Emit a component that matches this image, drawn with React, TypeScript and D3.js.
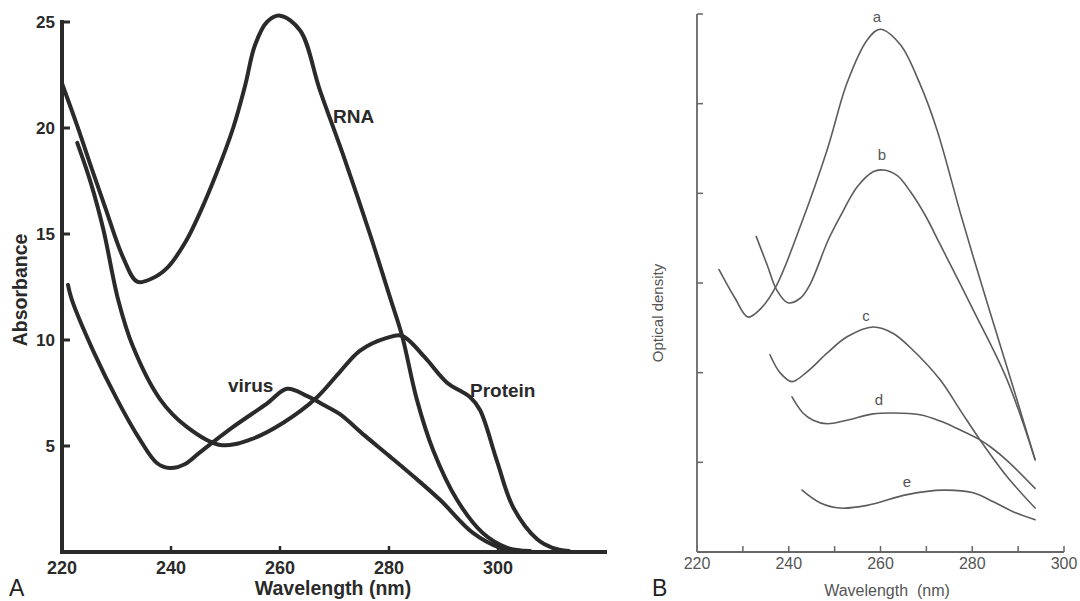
import React from "react";
import * as d3 from "d3";

// ---------- Panel A data (wavelength nm, absorbance) ----------
const rnaWl = [220, 222.8, 225.3, 228, 231.2, 233.8, 236.5, 239.3, 242.6, 245.3, 248.4, 251.4, 253.6, 255.4, 257.6, 260, 263.7, 267.3, 271.9, 276.5, 280.2, 282.4, 285.1, 288.1, 292.5, 297.2, 301.7, 305.9];
const rnaAbs = [22.1, 20.1, 18.2, 16.2, 13.9, 12.75, 12.9, 13.4, 14.6, 16.0, 17.9, 20.0, 22.0, 23.9, 25.0, 25.3, 24.6, 21.8, 18.5, 15.0, 12.0, 10.2, 7.2, 4.8, 2.45, 0.9, 0.2, 0.05];

const proteinWl = [222.8, 225.3, 227.6, 230.3, 233, 238, 242.9, 249, 254.5, 260.6, 266.8, 271, 274.7, 279.6, 282.4, 286.5, 290.6, 294.9, 296.7, 299.8, 302.8, 307.2, 310, 313];
const proteinAbs = [19.3, 17.4, 15.2, 11.9, 9.7, 7.2, 5.9, 5.05, 5.3, 6.1, 7.3, 8.5, 9.5, 10.1, 10.2, 9.2, 8.0, 7.3, 6.7, 4.3, 2.1, 0.6, 0.2, 0.05];

const virusWl = [221.1, 221.8, 225.7, 230.1, 234.3, 237.4, 239.8, 242.6, 245.3, 251.4, 257.6, 261.3, 265, 268.3, 271, 275.5, 280.2, 284.8, 289.4, 295.4, 300.4, 304];
const virusAbs = [12.6, 11.9, 9.5, 7.2, 5.3, 4.2, 3.96, 4.15, 4.7, 5.9, 7.0, 7.7, 7.35, 6.9, 6.5, 5.5, 4.5, 3.5, 2.45, 0.9, 0.2, 0.05];

const aXTicks = [220, 240, 260, 280, 300];
const aYTicks = [5, 10, 15, 20, 25];

// ---------- Panel B data (wavelength nm, optical density, arbitrary units) ----------
const curveAWl = [224.8, 228.3, 231.1, 234.0, 237.4, 242.5, 248.4, 252.7, 257.1, 259.9, 264.3, 268.6, 272.3, 277.8, 283.9, 288.9, 293.7];
const curveAOd = [3.15, 2.83, 2.62, 2.72, 2.98, 3.63, 4.49, 5.23, 5.71, 5.83, 5.66, 5.22, 4.71, 3.71, 2.67, 1.84, 1.03];

const curveBWl = [232.9, 235.3, 237.4, 239.8, 242.5, 244.6, 248.6, 251.2, 254.9, 258.4, 260.6, 263.6, 266.5, 269.8, 273.0, 280.2, 287.6, 293.7];
const curveBOd = [3.52, 3.20, 2.92, 2.78, 2.83, 2.98, 3.48, 3.74, 4.07, 4.24, 4.26, 4.20, 4.02, 3.75, 3.43, 2.70, 1.92, 1.03];

const curveCWl = [235.9, 238.1, 240.7, 244.0, 248.4, 252.7, 258.4, 262.7, 267.1, 273.0, 277.4, 281.7, 287.6, 293.7];
const curveCOd = [2.20, 2.00, 1.90, 2.01, 2.22, 2.40, 2.51, 2.44, 2.25, 1.92, 1.58, 1.25, 0.84, 0.49];

const curveDWl = [240.7, 243.1, 245.3, 248.4, 252.7, 258.4, 262.7, 268.6, 273.0, 277.4, 281.7, 284.3, 287.6, 293.7];
const curveDOd = [1.73, 1.55, 1.47, 1.43, 1.47, 1.54, 1.55, 1.53, 1.46, 1.36, 1.25, 1.16, 1.02, 0.71];

const curveEWl = [242.9, 246.8, 251.2, 257.1, 265.8, 273.7, 280.2, 284.6, 288.9, 293.7];
const curveEOd = [0.69, 0.55, 0.49, 0.52, 0.64, 0.69, 0.66, 0.56, 0.45, 0.36];

const bXLabelTicks = [220, 240, 260, 280, 300];
const bXMinorTicks = [230, 240, 250, 260, 270, 280, 290, 300];
const bYTicks = [1, 2, 3, 4, 5, 6];

const zip = (xs: number[], ys: number[]) => xs.map((x, i) => [x, ys[i]] as [number, number]);

export default function App() {
  // Panel A scales
  const ax = d3.scaleLinear().domain([220, 320]).range([62, 607]);
  const ay = d3.scaleLinear().domain([0, 25]).range([552, 22]);
  const aLine = d3
    .line<[number, number]>()
    .x((d) => ax(d[0]))
    .y((d) => ay(d[1]))
    .curve(d3.curveCatmullRom.alpha(0.5));

  // Panel B scales
  const bx = d3.scaleLinear().domain([220, 300]).range([697, 1064]);
  const by = d3.scaleLinear().domain([0, 6]).range([552, 14]);
  const bLine = d3
    .line<[number, number]>()
    .x((d) => bx(d[0]))
    .y((d) => by(d[1]))
    .curve(d3.curveCatmullRom.alpha(0.5));

  const darkA = "#2a2a2a";
  const grayB = "#5c5c5c";
  const fontA = "'Liberation Sans', Arial, Helvetica, sans-serif";

  const seriesA = [
    { name: "RNA", wl: rnaWl, v: rnaAbs },
    { name: "Protein", wl: proteinWl, v: proteinAbs },
    { name: "virus", wl: virusWl, v: virusAbs },
  ];
  const seriesB = [
    { name: "a", wl: curveAWl, v: curveAOd },
    { name: "b", wl: curveBWl, v: curveBOd },
    { name: "c", wl: curveCWl, v: curveCOd },
    { name: "d", wl: curveDWl, v: curveDOd },
    { name: "e", wl: curveEWl, v: curveEOd },
  ];

  return (
    <svg
      width={1080}
      height={601}
      style={{ position: "absolute", left: 0, top: 0, background: "#fff" }}
      fontFamily={fontA}
    >
      <rect x={0} y={0} width={1080} height={601} fill="#fff" />

      {/* ===== Panel A ===== */}
      <g>
        {seriesA.map((s) => (
          <path
            key={s.name}
            d={aLine(zip(s.wl, s.v)) || ""}
            fill="none"
            stroke={darkA}
            strokeWidth={4}
            strokeLinejoin="round"
            strokeLinecap="round"
          />
        ))}
        {/* axes */}
        <line x1={ax(220)} x2={ax(220)} y1={ay(25) - 2} y2={ay(0) + 2} stroke={darkA} strokeWidth={4} />
        <line x1={ax(220) - 2} x2={ax(320)} y1={ay(0)} y2={ay(0)} stroke={darkA} strokeWidth={4} />
        {aYTicks.map((t) => (
          <g key={"ay" + t}>
            <line x1={ax(220)} x2={ax(220) + 8} y1={ay(t)} y2={ay(t)} stroke={darkA} strokeWidth={3} />
            <text x={55} y={ay(t)} dy="0.36em" textAnchor="end" fontSize={17} fontWeight="bold" fill={darkA}>
              {t}
            </text>
          </g>
        ))}
        {aXTicks.map((t) => (
          <g key={"ax" + t}>
            {t > 220 && (
              <line x1={ax(t)} x2={ax(t)} y1={ay(0)} y2={ay(0) - 6} stroke={darkA} strokeWidth={2.5} />
            )}
            <text x={ax(t)} y={574} textAnchor="middle" fontSize={18} fontWeight="bold" fill={darkA}>
              {t}
            </text>
          </g>
        ))}
        <text x={333} y={595} textAnchor="middle" fontSize={19.5} fontWeight="bold" fill={darkA}>
          Wavelength (nm)
        </text>
        <text
          transform="translate(27,290) rotate(-90)"
          textAnchor="middle"
          fontSize={19.5}
          fontWeight="bold"
          fill={darkA}
        >
          Absorbance
        </text>
        <text x={333} y={123} fontSize={19} fontWeight="bold" fill={darkA}>
          RNA
        </text>
        <text x={228} y={392} fontSize={19} fontWeight="bold" fill={darkA}>
          virus
        </text>
        <text x={470} y={397} fontSize={19} fontWeight="bold" fill={darkA}>
          Protein
        </text>
        <text x={9} y={596} fontSize={23} fill="#222">
          A
        </text>
      </g>

      {/* ===== Panel B ===== */}
      <g>
        {seriesB.map((s) => (
          <path
            key={s.name}
            d={bLine(zip(s.wl, s.v)) || ""}
            fill="none"
            stroke={grayB}
            strokeWidth={1.6}
            strokeLinecap="round"
          />
        ))}
        <line x1={bx(220)} x2={bx(220)} y1={by(6)} y2={by(0)} stroke="#666" strokeWidth={1.8} />
        <line x1={bx(220)} x2={bx(300)} y1={by(0)} y2={by(0)} stroke="#666" strokeWidth={1.8} />
        {bYTicks.map((t) => (
          <line key={"by" + t} x1={bx(220)} x2={bx(220) + 6} y1={by(t)} y2={by(t)} stroke="#666" strokeWidth={1.5} />
        ))}
        {bXMinorTicks.map((t) => (
          <line key={"bx" + t} x1={bx(t)} x2={bx(t)} y1={by(0)} y2={by(0) - 6} stroke="#666" strokeWidth={1.5} />
        ))}
        {bXLabelTicks.map((t) => (
          <text key={"bl" + t} x={bx(t)} y={569} textAnchor="middle" fontSize={16} fill="#555">
            {t}
          </text>
        ))}
        <text x={887} y={596} textAnchor="middle" fontSize={16} fill="#555" xmlSpace="preserve">
          {"Wavelength  (nm)"}
        </text>
        <text transform="translate(663,313) rotate(-90)" textAnchor="middle" fontSize={15} fill="#555">
          Optical density
        </text>
        <text x={877} y={22} textAnchor="middle" fontSize={15} fill="#555">a</text>
        <text x={882} y={160} textAnchor="middle" fontSize={15} fill="#555">b</text>
        <text x={866} y={321} textAnchor="middle" fontSize={15} fill="#555">c</text>
        <text x={879} y={405} textAnchor="middle" fontSize={15} fill="#555">d</text>
        <text x={907} y={487} textAnchor="middle" fontSize={15} fill="#555">e</text>
        <text x={652} y={596} fontSize={23} fill="#222">
          B
        </text>
      </g>
    </svg>
  );
}
